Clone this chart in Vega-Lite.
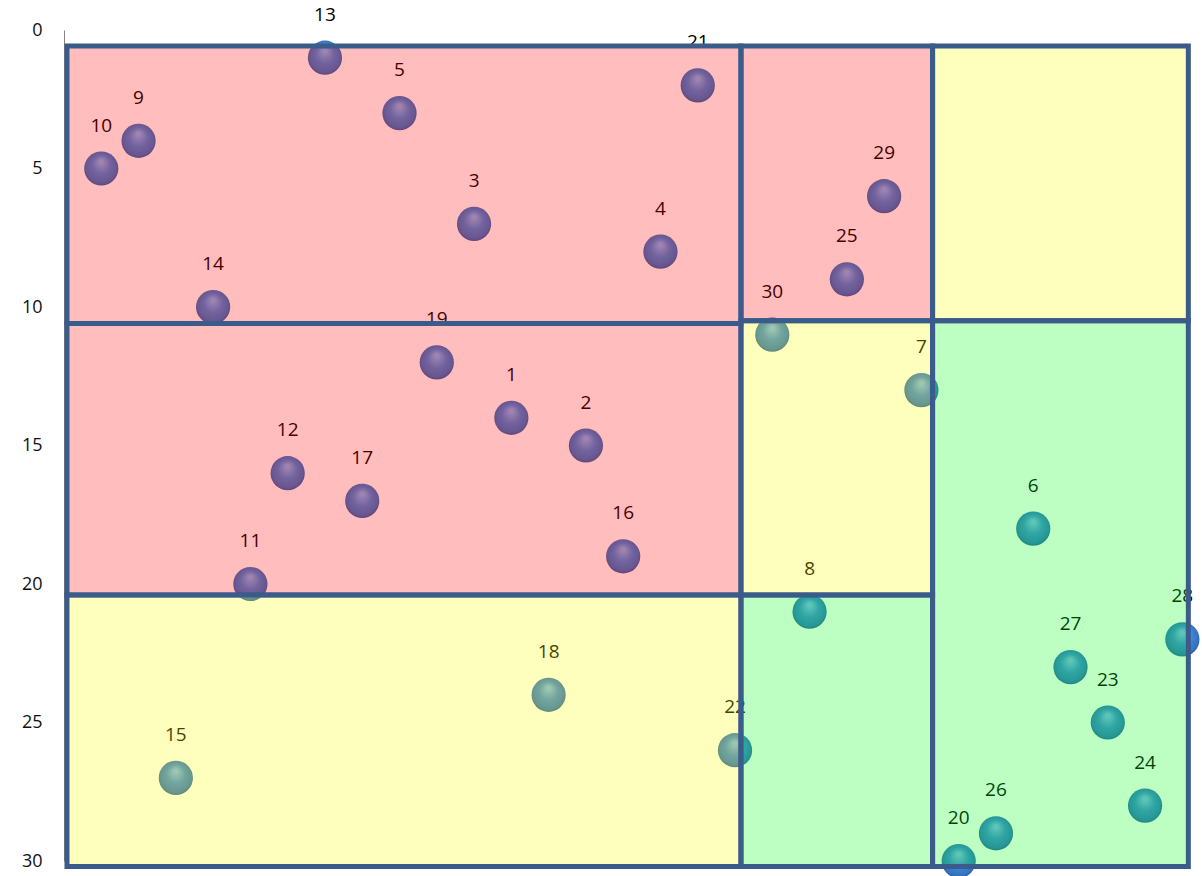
{
  "$schema": "https://vega.github.io/schema/vega-lite/v6.json",
  "autosize": "none",
  "width": 1137,
  "height": 831,
  "padding": {"left": 64, "top": 30, "right": 0, "bottom": 15},
  "background": "white",
  "config": {"view": {"stroke": null}},
  "datasets": {
    "points": [
      {"id": "10", "x": 1, "y": 5},
      {"id": "9", "x": 2, "y": 4},
      {"id": "15", "x": 3, "y": 27},
      {"id": "14", "x": 4, "y": 10},
      {"id": "11", "x": 5, "y": 20},
      {"id": "12", "x": 6, "y": 16},
      {"id": "13", "x": 7, "y": 1},
      {"id": "17", "x": 8, "y": 17},
      {"id": "5", "x": 9, "y": 3},
      {"id": "19", "x": 10, "y": 12},
      {"id": "3", "x": 11, "y": 7},
      {"id": "1", "x": 12, "y": 14},
      {"id": "18", "x": 13, "y": 24},
      {"id": "2", "x": 14, "y": 15},
      {"id": "16", "x": 15, "y": 19},
      {"id": "4", "x": 16, "y": 8},
      {"id": "21", "x": 17, "y": 2},
      {"id": "22", "x": 18, "y": 26},
      {"id": "30", "x": 19, "y": 11},
      {"id": "8", "x": 20, "y": 21},
      {"id": "25", "x": 21, "y": 9},
      {"id": "29", "x": 22, "y": 6},
      {"id": "7", "x": 23, "y": 13},
      {"id": "20", "x": 24, "y": 30},
      {"id": "26", "x": 25, "y": 29},
      {"id": "6", "x": 26, "y": 18},
      {"id": "27", "x": 27, "y": 23},
      {"id": "23", "x": 28, "y": 25},
      {"id": "24", "x": 29, "y": 28},
      {"id": "28", "x": 30, "y": 22}
    ],
    "zones": [
      {"zone": "pink", "x": 0.08, "x2": 18.16, "y": 0.58, "y2": 10.6},
      {"zone": "pink", "x": 0.08, "x2": 18.16, "y": 10.6, "y2": 20.4},
      {"zone": "yellow", "x": 0.08, "x2": 18.16, "y": 20.4, "y2": 30.2},
      {"zone": "pink", "x": 18.16, "x2": 23.3, "y": 0.58, "y2": 10.5},
      {"zone": "yellow", "x": 18.16, "x2": 23.3, "y": 10.5, "y2": 20.4},
      {"zone": "green", "x": 18.16, "x2": 23.3, "y": 20.4, "y2": 30.2},
      {"zone": "yellow", "x": 23.3, "x2": 30.16, "y": 0.58, "y2": 10.5},
      {"zone": "green", "x": 23.3, "x2": 30.16, "y": 10.5, "y2": 30.2}
    ]
  },
  "layer": [
    {
      "data": {"name": "points"},
      "mark": {
        "type": "point",
        "shape": "circle",
        "filled": true,
        "size": 1170,
        "opacity": 1,
        "strokeWidth": 0,
        "fill": {
          "gradient": "radial",
          "x1": 0.5, "y1": 0.3, "r1": 0.05,
          "x2": 0.5, "y2": 0.5, "r2": 0.55,
          "stops": [
            {"offset": 0, "color": "#7db2ee"},
            {"offset": 0.45, "color": "#4186d6"},
            {"offset": 0.82, "color": "#3374c2"},
            {"offset": 1, "color": "#264f8b"}
          ]
        }
      },
      "encoding": {
        "x": {"field": "x", "type": "quantitative", "scale": {"domain": [0, 30.5], "nice": false, "zero": false}, "axis": null},
        "y": {"field": "y", "type": "quantitative", "scale": {"domain": [0, 30], "reverse": true, "nice": false},
          "axis": {"values": [0, 5, 10, 15, 20, 25, 30], "title": null, "grid": false, "ticks": false, "labelPadding": 22,
            "labelFont": "Open Sans", "labelFontSize": 18, "labelColor": "#111111", "domainColor": "#868686", "domainWidth": 1}}
      }
    },
    {
      "data": {"name": "points"},
      "mark": {"type": "text", "dy": -43, "baseline": "middle", "align": "center", "font": "Open Sans", "fontSize": 19, "color": "#000000"},
      "encoding": {
        "x": {"field": "x", "type": "quantitative"},
        "y": {"field": "y", "type": "quantitative"},
        "text": {"field": "id", "type": "nominal"}
      }
    },
    {
      "data": {"name": "zones"},
      "mark": {"type": "rect", "fillOpacity": 0.26, "stroke": "#3b5b8b", "strokeWidth": 5, "strokeOpacity": 1},
      "encoding": {
        "x": {"field": "x", "type": "quantitative"},
        "x2": {"field": "x2"},
        "y": {"field": "y", "type": "quantitative"},
        "y2": {"field": "y2"},
        "fill": {"field": "zone", "type": "nominal", "scale": {"domain": ["pink", "yellow", "green"], "range": ["#ff0000", "#ffff00", "#00ff18"]}, "legend": null}
      }
    }
  ]
}
